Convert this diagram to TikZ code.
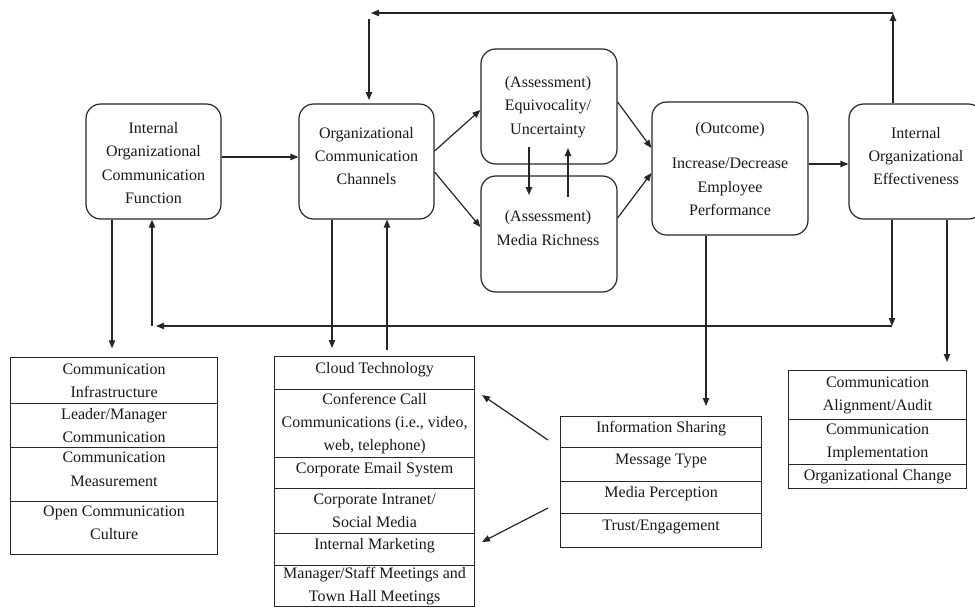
\documentclass[tikz,border=0pt]{standalone}
\usepackage{fontspec}
\setmainfont{Liberation Serif}
\usetikzlibrary{arrows.meta,calc}
\begin{document}
\begin{tikzpicture}[x=0.75pt,y=-0.75pt,
  every node/.style={font=\fontsize{12}{17.5}\selectfont, align=center, inner sep=0pt, text=black!90},
  rbox/.style={draw=black!85, rounded corners=11pt, line width=0.9pt},
  cell/.style={draw=black!85, line width=0.9pt, anchor=north west},
  up/.style={text depth=8.2pt},
  lcell/.style={cell, minimum width=155.25pt},
  mcell/.style={cell, minimum width=150pt},
  icell/.style={cell, minimum width=150.75pt},
  rcell/.style={cell, minimum width=133.5pt},
  arr/.style={draw=black!85, -{Triangle[length=6pt,width=4.8pt]}, line width=0.9pt}]
\clip (0,0) rectangle (975,608);
\fill[white] (0,0) rectangle (975,608);

% main boxes
\node[rbox, minimum width=101.25pt, minimum height=86.25pt] (b1) at (153.5,161.5) {};
\node (t1) at (153.5,163) {Internal\\Organizational\\Communication\\Function};
\node[rbox, minimum width=101.25pt, minimum height=86.25pt] (b2) at (366.5,161.5) {};
\node (t2) at (366.5,156) {Organizational\\Communication\\Channels};
\node[rbox, minimum width=102pt, minimum height=86.25pt] (b3) at (549,106.5) {};
\node (t3) at (548,107) {(Assessment)\\Equivocality/\\Uncertainty};
\node[rbox, minimum width=102pt, minimum height=87pt] (b4) at (549,234) {};
\node (t4) at (548,228) {(Assessment)\\Media Richness};
\node[rbox, minimum width=117pt, minimum height=99.75pt] (b5) at (730,168.5) {};
\node (t5) at (730,169) {(Outcome)\\[9pt]Increase/Decrease\\Employee\\Performance};
\node[rbox, minimum width=100.5pt, minimum height=86.25pt] (b6) at (916,161.5) {};
\node (t6) at (916,156) {Internal\\Organizational\\Effectiveness};

% left list
\node[lcell, minimum height=34.5pt] (L1) at (10,357) {Communication\\Infrastructure};
\node[lcell, minimum height=33pt] (L2) at (10,403) {Leader/Manager\\Communication};
\node[lcell, up, minimum height=40.5pt] (L3) at (10,447) {Communication\\Measurement};
\node[lcell, up, minimum height=39.75pt] (L4) at (10,501) {Open Communication\\Culture};

% middle list
\node[mcell, up, minimum height=24.75pt] (M1) at (274,356) {Cloud Technology};
\node[mcell, minimum height=51pt] (M2) at (274,389) {Conference Call\\Communications (i.e., video,\\web, telephone)};
\node[mcell, up, minimum height=23.25pt] (M3) at (274,457) {Corporate Email System};
\node[mcell, minimum height=33.75pt] (M4) at (274,488) {Corporate Intranet/\\Social Media};
\node[mcell, up, minimum height=24pt] (M5) at (274,533) {Internal Marketing};
\node[mcell, minimum height=30.75pt] (M6) at (274,565) {Manager/Staff Meetings and\\Town Hall Meetings};

% info list
\node[icell, up, minimum height=23.25pt] (I1) at (560,416) {Information Sharing};
\node[icell, up, minimum height=25.5pt] (I2) at (560,447) {Message Type};
\node[icell, up, minimum height=24pt] (I3) at (560,481) {Media Perception};
\node[icell, up, minimum height=25.5pt] (I4) at (560,513) {Trust/Engagement};

% right list
\node[rcell, minimum height=36.75pt] (R1) at (788,370) {Communication\\Alignment/Audit};
\node[rcell, minimum height=33.75pt] (R2) at (788,419) {Communication\\Implementation};
\node[rcell, minimum height=18pt] (R3) at (788,464) {Organizational Change};

% helper coordinates
\coordinate (topR) at (893,13);
\coordinate (topL) at (371,13);
\coordinate (vL) at (369,19);
\coordinate (botR) at (892,326);
\coordinate (botLt) at (156,326);
\coordinate (botL) at (152,326);
\coordinate (x112) at (112,0);
\coordinate (x332) at (332,0);
\coordinate (x387) at (387,0);
\coordinate (x706) at (706,0);
\coordinate (x947) at (947,0);
\coordinate (dA) at (529,147);
\coordinate (dB) at (529,195);
\coordinate (uA) at (568,197);
\coordinate (uB) at (568,148);
\coordinate (iA) at (548,440);
\coordinate (iB) at (482,395);
\coordinate (jA) at (548,508);
\coordinate (jB) at (482,542);
\coordinate (y157) at (0,157);
\coordinate (y151) at (0,151);
\coordinate (y110) at (0,110);
\coordinate (y172) at (0,172);
\coordinate (y227) at (0,227);
\coordinate (y102) at (0,102);
\coordinate (y148) at (0,148);
\coordinate (y218) at (0,218);
\coordinate (y173) at (0,173);
\coordinate (y164) at (0,164);
\coordinate (y350) at (0,350);

% connectors between main boxes
\draw[arr] (b1.east |- y157) -- (b2.west |- y157);
\draw[arr] (b2.east |- y151) -- (b3.west |- y110);
\draw[arr] (b2.east |- y172) -- (b4.west |- y227);
\draw[arr] (b3.east |- y102) -- (b5.west |- y148);
\draw[arr] (b4.east |- y218) -- (b5.west |- y173);
\draw[arr] (b5.east |- y164) -- (b6.west |- y164);
\draw[arr] (dA) -- (dB);
\draw[arr] (uA) -- (uB);

% top feedback
\draw[arr] (topR |- b6.north) -- (topR);
\draw[arr] (topR) -- (topL);
\draw[arr, shorten >=2.5pt] (vL) -- (vL |- b2.north);

% bottom feedback
\draw[arr] (botR |- b6.south) -- (botR);
\draw[arr] (botR) -- (botLt);
\draw[arr] (botL) -- (botL |- b1.south);

% down/up to lists
\draw[arr, shorten >=6.5pt] (x112 |- b1.south) -- (x112 |- L1.north);
\draw[arr, shorten >=6pt] (x332 |- b2.south) -- (x332 |- M1.north);
\draw[arr] (x387 |- y350) -- (x387 |- b2.south);
\draw[arr, shorten >=7.5pt] (x706 |- b5.south) -- (x706 |- I1.north);
\draw[arr, shorten >=6pt] (x947 |- b6.south) -- (x947 |- R1.north);

% info to channels
\draw[arr] (iA) -- (iB);
\draw[arr] (jA) -- (jB);
\end{tikzpicture}
\end{document}
